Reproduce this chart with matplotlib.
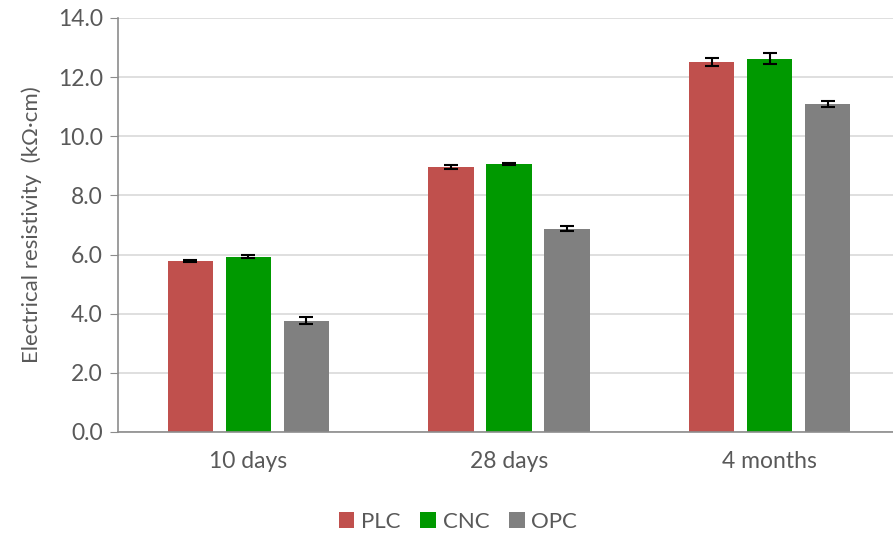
import matplotlib
matplotlib.use("Agg")
import matplotlib.pyplot as plt
import numpy as np

categories = ["10 days", "28 days", "4 months"]
series = ["PLC", "CNC", "OPC"]
plc = [5.78, 8.95, 12.52]
cnc = [5.93, 9.07, 12.63]
opc = [3.76, 6.88, 11.08]
plc_err = [0.04, 0.07, 0.14]
cnc_err = [0.06, 0.03, 0.18]
opc_err = [0.12, 0.09, 0.10]
colors = ["#C0504D", "#009900", "#808080"]
yticks = [0, 2, 4, 6, 8, 10, 12, 14]

plt.rcParams['font.family'] = ['Lato', 'DejaVu Sans']
txt = "#595959"

fig = plt.figure(figsize=(8.93, 5.40), dpi=100)
ax = fig.add_axes([118/893, 1-432/540, 782/893, 414/540])

x = np.arange(len(categories))
w = 0.174
off = 0.222
for i, (vals, errs, c, name) in enumerate(zip([plc, cnc, opc], [plc_err, cnc_err, opc_err], colors, series)):
    ax.bar(x + (i-1)*off, vals, w, color=c, label=name, zorder=2,
           yerr=errs, error_kw=dict(ecolor="black", elinewidth=1.5, capsize=5, capthick=1.5, zorder=3))

ax.set_xlim(-0.5, 2.5)
ax.set_ylim(0, 14)
ax.set_yticks(yticks)
ax.set_yticklabels([f"{v:.1f}" for v in yticks])
ax.set_xticks(x)
ax.set_xticklabels(categories)
ax.yaxis.grid(True, color="#D9D9D9", linewidth=1.2, zorder=0)
ax.set_axisbelow(True)
for s in ["top", "right"]:
    ax.spines[s].set_visible(False)
for s in ["left", "bottom"]:
    ax.spines[s].set_color("#8C8C8C")
    ax.spines[s].set_linewidth(1.2)
ax.tick_params(axis="y", length=6, color="#8C8C8C", labelsize=16.5, labelcolor=txt, pad=5, direction="out")
ax.tick_params(axis="x", length=0, labelsize=16.5, labelcolor=txt, pad=14)
ax.set_ylabel("Electrical resistivity  (kΩ·cm)", fontsize=16, color=txt, labelpad=11)

fig.legend(loc="center", bbox_to_anchor=(458/893, 1-522/540), ncol=3, frameon=False,
           fontsize=16, labelcolor=txt, handlelength=0.7, handleheight=0.7,
           handletextpad=0.3, columnspacing=0.9)

fig.savefig("out.png", dpi=100)
